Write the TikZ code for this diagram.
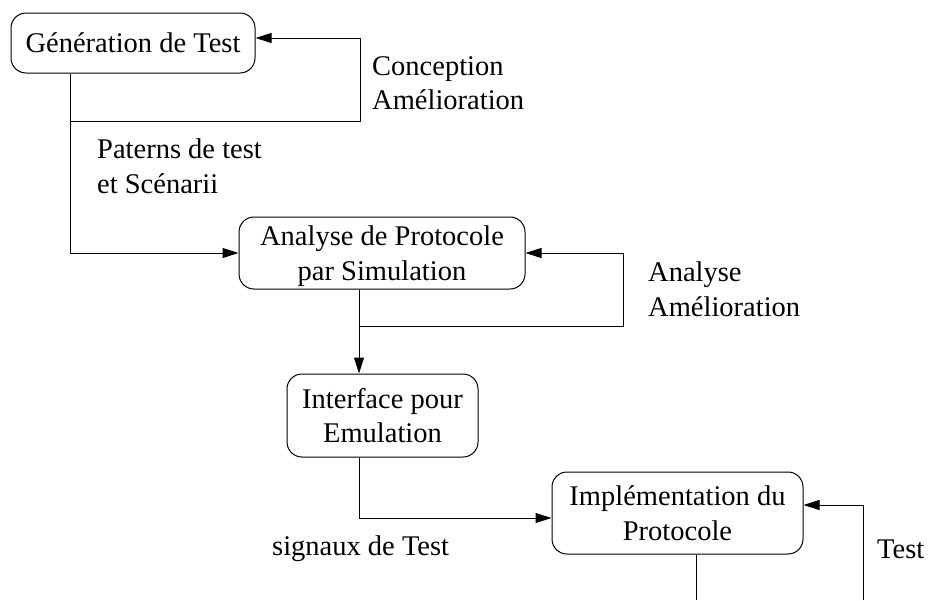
\documentclass[tikz,border=0pt]{standalone}
\usepackage{fontspec}
\setmainfont{Liberation Serif}
\usetikzlibrary{arrows.meta}
\begin{document}
\begin{tikzpicture}[x=1pt,y=-1pt,
  font=\fontsize{28.5}{34.5}\selectfont,
  box/.style={draw,line width=1pt,rounded corners=15pt,align=center,inner sep=0pt},
  conn/.style={line width=1pt},
  arr/.style={conn,-{Triangle[length=16pt,width=10pt]}},
  lbl/.style={align=left,inner sep=0pt,anchor=west}]
\useasboundingbox (0,0) rectangle (929,600);
\node[box,minimum width=244pt,minimum height=60pt] (b1) at (133,43) {Génération de Test};
\node[box,minimum width=286pt,minimum height=72pt,text depth=0pt] (b2) at (382,253) {Analyse de Protocole\\par Simulation};
\node[box,minimum width=191pt,minimum height=83pt] (b3) at (382.5,415.5) {Interface pour\\Emulation};
\node[box,minimum width=251pt,minimum height=82pt] (b4) at (677.5,513) {Implémentation du\\Protocole};

\coordinate (v1) at (70,0);
\coordinate (j1) at (70,121);
\coordinate (r1) at (360,0);
\coordinate (v2) at (359,0);
\coordinate (j2) at (359,326);
\coordinate (r2) at (623,0);
\coordinate (r4) at (863,600);
\coordinate (d4) at (696,600);
\coordinate (e1) at ([yshift=5pt]b1.east);
\coordinate (w4) at ([yshift=-5pt]b4.west);
\coordinate (e4) at ([yshift=8pt]b4.east);

\draw[arr] (b1.south -| v1) |- (b2.west);
\draw[arr] (j1) -| (r1 |- e1) -- (e1);
\draw[arr] (b2.south -| v2) -- (b3.north -| v2);
\draw[arr] (j2) -| (r2 |- b2.east) -- (b2.east);
\draw[arr] (b3.south -| v2) |- (w4);
\draw[arr] (r4) |- (e4);
\draw[conn] (b4.south -| d4) -- (d4);

\node[lbl] (l1) at (372,83) {Conception\\Amélioration};
\node[lbl] (l2) at (97,166) {Paterns de test\\et Scénarii};
\node[lbl] (l3) at (648,289) {Analyse\\Amélioration};
\node[lbl] (l4) at (272,549) {signaux de Test};
\node[lbl] (l5) at (877,549) {Test};
\end{tikzpicture}
\end{document}
